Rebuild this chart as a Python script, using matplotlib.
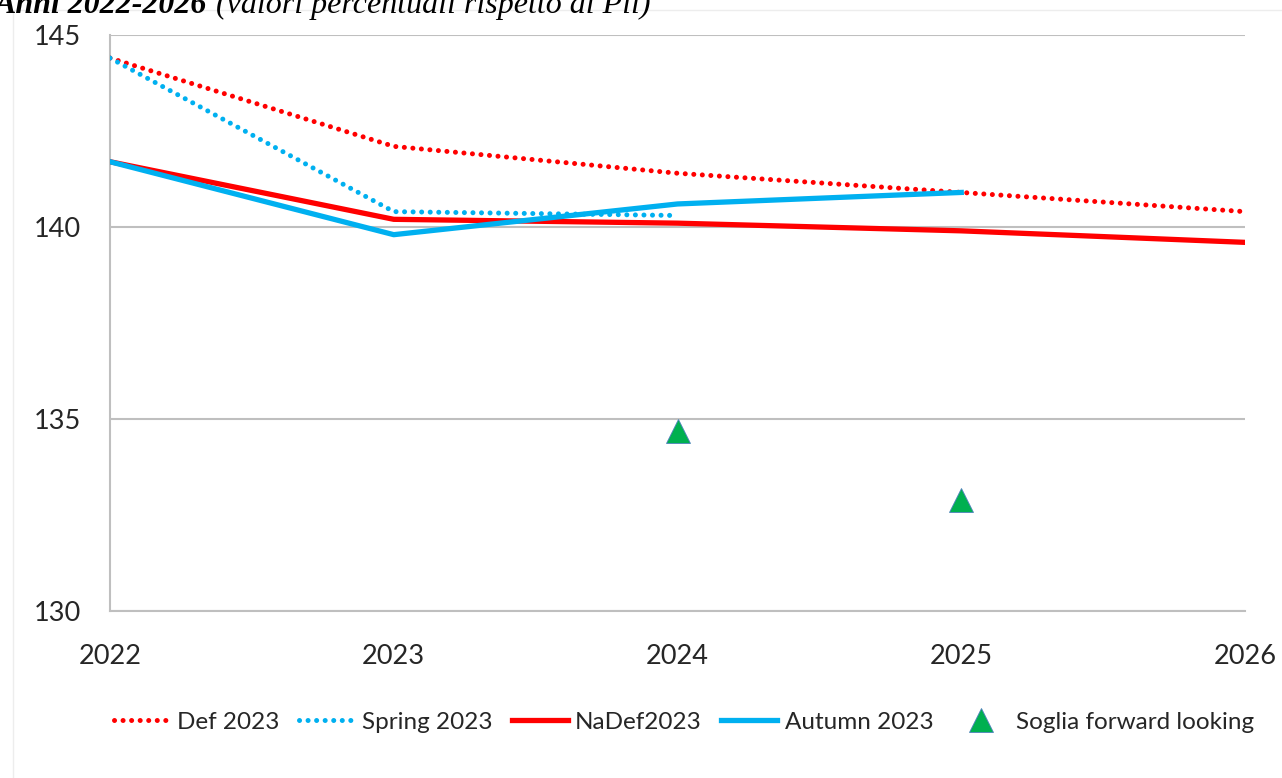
import matplotlib
matplotlib.use("Agg")
import matplotlib.pyplot as plt
from matplotlib.patches import Rectangle

plt.rcParams['font.family'] = ['Lato', 'DejaVu Sans']

years = [2022, 2023, 2024, 2025, 2026]
def_2023 = [144.4, 142.1, 141.4, 140.9, 140.4]
spring_2023 = [144.4, 140.4, 140.3]
nadef_2023 = [141.7, 140.2, 140.1, 139.9, 139.6]
autumn_2023 = [141.7, 139.8, 140.6, 140.9]
soglia_years = [2024, 2025]
soglia = [134.7, 132.9]

red = '#FF0000'
blue = '#00B0F0'
green = '#00B050'
grid_col = '#BFBFBF'

fig = plt.figure(figsize=(12.82, 7.78), dpi=100)
ax = fig.add_axes([110/1282, 1-611/778, (1245-110)/1282, (611-35)/778])

# faint outer frame of the chart area
fig.patches.append(Rectangle((13/1282, -0.1), 1.2, 1-10/778+0.1, transform=fig.transFigure,
                             fill=False, edgecolor='#EDEDED', lw=1))

# title, cut off at the top of the picture (as in the source)
fig.text(-0.004, 1-13/778, 'Anni 2022-2026', family='Liberation Serif', style='italic',
         weight='bold', fontsize=23, va='baseline')
fig.text(216/1282, 1-13/778, '(valori percentuali rispetto al Pil)', family='Liberation Serif',
         style='italic', fontsize=23, va='baseline')

dot = (0, (0.01, 1.7))
ax.plot(years, def_2023, color=red, lw=3.6, linestyle=dot, dash_capstyle='round',
        label='Def 2023', zorder=3)
ax.plot(years[:len(spring_2023)], spring_2023, color=blue, lw=3.6, linestyle=dot,
        dash_capstyle='round', label='Spring 2023', zorder=3)
ax.plot(years, nadef_2023, color=red, lw=3.8, label='NaDef2023', zorder=4)
ax.plot(years[:len(autumn_2023)], autumn_2023, color=blue, lw=3.8, label='Autumn 2023', zorder=5)
ax.plot(soglia_years, soglia, linestyle='none', marker='^', ms=17, color=green,
        markeredgecolor='#4F81BD', markeredgewidth=0.6, label='Soglia forward looking', zorder=6)

ax.set_xlim(2022, 2026)
ax.set_ylim(130, 145)
ax.set_xticks(years)
ax.set_yticks([130, 135, 140, 145])
ax.tick_params(length=0, labelsize=19.5, colors='#262626')
ax.tick_params(axis='y', pad=21)
ax.tick_params(axis='x', pad=24)
ax.yaxis.grid(True, color=grid_col, lw=1.5)
ax.set_axisbelow(True)
for s in ['top', 'right']:
    ax.spines[s].set_visible(False)
for s in ['left', 'bottom']:
    ax.spines[s].set_color(grid_col)
    ax.spines[s].set_linewidth(1.5)

leg = fig.legend(loc='center', bbox_to_anchor=(0.5335, 1-722/778), ncol=5, frameon=False,
                 fontsize=17.5, handlelength=2.3, handletextpad=0.3, columnspacing=0.8)
for t in leg.get_texts():
    t.set_color('#262626')

fig.savefig('out.png', dpi=100)
